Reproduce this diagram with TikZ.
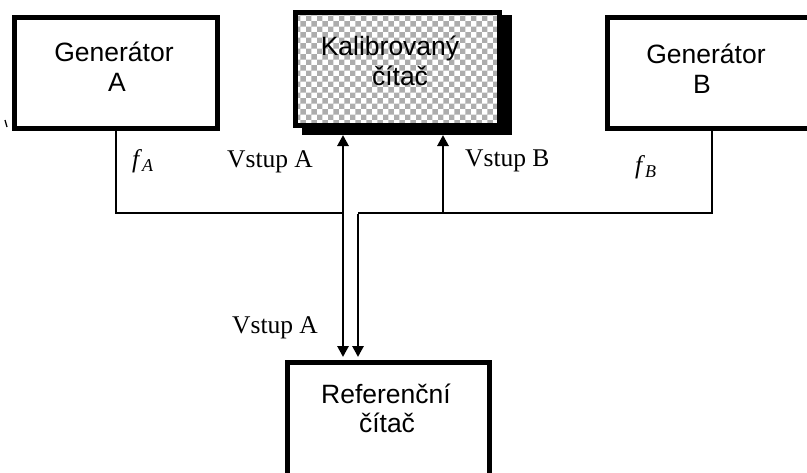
\documentclass[tikz,border=0pt]{standalone}
\usepackage{fontspec}
\setmainfont{Liberation Serif}
\newfontfamily\arialfont{Liberation Sans}
\usetikzlibrary{arrows.meta,patterns}

\tikzset{
  block/.style={draw=black, line width=4.8pt, inner sep=0pt, rectangle},
  blocktext/.style={anchor=base, inner sep=0pt, font=\arialfont\fontsize{26.5}{30}\selectfont},
  sigtext/.style={anchor=base west, inner sep=0pt, font=\fontsize{25.5}{28}\selectfont},
  wire/.style={line width=2pt},
  feed/.style={line width=2.8pt, -{Triangle[length=11pt,width=11pt]}},
}

\begin{document}
\begin{tikzpicture}[x=1pt, y=-1pt]
  \useasboundingbox (0,0) rectangle (807,472);
  \clip (0,0) rectangle (807,472);

  % generators and counters
  \node[block, minimum width=203.2pt, minimum height=111.2pt] (genA) at (116,73) {};
  \fill[black] (302,15) rectangle (512,135);
  \node[block, minimum width=204.2pt, minimum height=113.2pt,
        preaction={fill=white}, pattern=checkerboard, pattern color=black!32] (kal) at (397.5,69) {};
  \node[block, minimum width=209.2pt, minimum height=111.2pt] (genB) at (712,73) {};
  \node[block, minimum width=202.2pt, minimum height=125.2pt] (ref) at (388.5,425) {};

  % box captions
  \node[blocktext] (genA1) at (114,61) {Generátor};
  \node[blocktext] (genA2) at (117,91) {A};
  \node[blocktext] (kal1) at (390,55) {Kalibrovaný};
  \node[blocktext] (kal2) at (400,85) {čítač};
  \node[blocktext] (genB1) at (706,63) {Generátor};
  \node[blocktext] (genB2) at (702,93) {B};
  \node[blocktext] (ref1) at (386,403) {Referenční};
  \node[blocktext] (ref2) at (387,432) {čítač};

  % signal routing points
  \coordinate (busA) at (343,213);
  \coordinate (busB) at (358,213);
  \coordinate (tapB) at (443,213);

  % generator A into both counters
  \draw[wire] (genA.south) |- (busA);
  \draw[feed] (busA) -- ([yshift=-7pt]kal.south -| busA);
  \draw[feed] (busA) -- ([yshift=3pt]ref.north -| busA);

  % generator B into both counters
  \draw[wire] (genB.south) |- (busB);
  \draw[feed] (tapB) -- ([yshift=-7pt]kal.south -| tapB);
  \draw[feed] ([yshift=-1pt]busB) -- ([yshift=3pt]ref.north -| busB);

  % labels
  \node[sigtext] (fA) at (132,167) {\textit{f}\raisebox{-4pt}{\fontsize{18}{18}\selectfont\textit{A}}};
  \node[sigtext] (inA) at (227,167) {Vstup A};
  \node[sigtext] (inB) at (465,166) {Vstup B};
  \node[sigtext] (fB) at (635,173) {\textit{f}\raisebox{-4pt}{\fontsize{18}{18}\selectfont\textit{B}}};
  \node[sigtext] (inA2) at (232,333) {Vstup A};

  % small stroke at the left edge
  \draw[line width=1.3pt] (5,120) -- (7,127);
\end{tikzpicture}
\end{document}
